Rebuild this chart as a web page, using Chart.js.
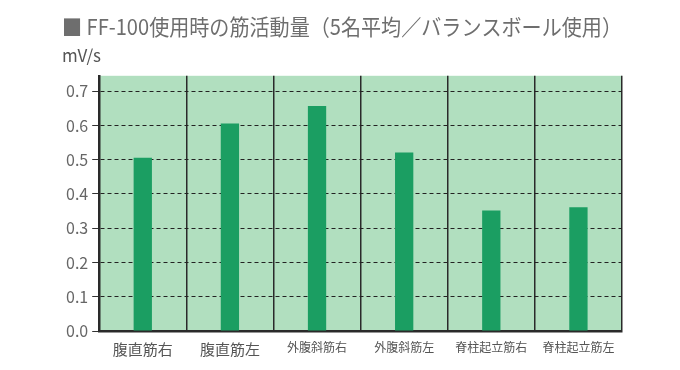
<!DOCTYPE html>
<html>
<head>
<meta charset="utf-8">
<style>
  html, body { margin: 0; padding: 0; background: #fff; }
  #wrap { width: 680px; height: 370px; }
</style>
<script src="https://cdn.jsdelivr.net/npm/chart.js@4/dist/chart.umd.min.js"></script>
</head>
<body>
<div id="wrap"><canvas id="myChart" width="680" height="370"></canvas></div>
<script>
var categories = ["腹直筋右", "腹直筋左", "外腹斜筋右", "外腹斜筋左", "脊柱起立筋右", "脊柱起立筋左"];
var values = [0.506, 0.606, 0.657, 0.521, 0.352, 0.361];
var titleText = "■ FF-100使用時の筋活動量（5名平均／バランスボール使用）";
var unitText = "mV/s";

var FONT = "'Noto Sans CJK JP', 'Noto Sans', sans-serif";

// fill plot area green
var plotBg = {
  id: "plotBg",
  beforeDraw: function(chart) {
    var a = chart.chartArea, c = chart.ctx;
    c.save();
    c.fillStyle = "#b1dfbf";
    c.fillRect(a.left, a.top, a.right - a.left, a.bottom - a.top);
    c.restore();
  }
};

var ctx = document.getElementById("myChart").getContext("2d");
var myChart = new Chart(ctx, {
  type: "bar",
  data: {
    labels: categories,
    datasets: [{
      data: values,
      backgroundColor: "#1b9e62",
      borderWidth: 0,
      barPercentage: 0.21,
      categoryPercentage: 1.0
    }]
  },
  options: {
    responsive: false,
    animation: false,
    layout: { padding: { left: 62, right: 58, top: 10, bottom: 3 } },
    plugins: {
      legend: { display: false },
      tooltip: { enabled: false },
      title: {
        display: true, text: titleText, align: "start",
        color: "#6e6e6e", font: { family: FONT, size: 22, weight: "normal" },
        padding: { top: 3, bottom: 6 }
      },
      subtitle: {
        display: true, text: unitText, align: "start",
        color: "#555", font: { family: FONT, size: 17, weight: "normal" },
        padding: { top: 0, bottom: 10 }
      }
    },
    scales: {
      x: {
        grid: { color: "#2a2a2a", lineWidth: 1.5, drawTicks: false, offset: true },
        border: { color: "#2a2a2a", width: 2.5 },
        ticks: {
          color: "#555", padding: 9,
          font: function(c) { return { family: FONT, size: c.index < 2 ? 15 : 12 }; }
        }
      },
      y: {
        min: 0, max: 0.745,
        grid: { color: "#222", lineWidth: 1, tickLength: 7, tickBorderDash: [7, 0], tickColor: "#333" },
        border: { color: "#2a2a2a", width: 2.5, dash: [4, 3] },
        ticks: {
          stepSize: 0.1, includeBounds: false, color: "#666", padding: 4,
          font: { family: FONT, size: 16 },
          callback: function(v) { return v.toFixed(1); }
        }
      }
    }
  },
  plugins: [plotBg]
});
</script>
</body>
</html>
